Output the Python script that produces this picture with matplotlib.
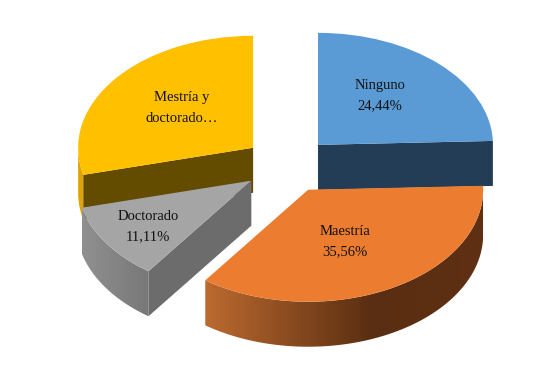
import numpy as np
import matplotlib.pyplot as plt
from matplotlib.colors import ListedColormap, to_rgb
from matplotlib.patches import Polygon

# Data
categories = ['Ninguno', 'Maestría', 'Doctorado', 'Mestría y doctorado']
values = [24.44, 35.56, 11.11, 28.89]
labels = ['Ninguno\n24,44%', 'Maestría\n35,56%', 'Doctorado\n11,11%', 'Mestría y\ndoctorado…']

top_colors = ['#5B9BD5', '#EC7C30', '#A5A5A5', '#FFC000']
cut_colors = ['#223D55', None, '#6C6C6C', '#634B00']
rim_colors = [None, ['#BC6A2F', '#5A2E12', '#5F3013'], ['#909090', '#787878'], ['#DDA500', '#DDA500']]
rim_stops = [None, [0, 0.6, 1], [0, 1], [0, 1]]

# Pixel geometry of the figure
W, H = 539, 376
cx, cy = 287.6, 165.0
rx, ry = 175.0, 112.0
depth = 45.0 / ry
label_xy = [(380, 96), (345, 242), (148, 227), (182, 108)]
draw_order = [3, 0, 2, 1]


def add_cut(ax, wedge, theta, color, z):
    # flat face under one radial edge of the slice
    x0, y0 = wedge.center
    x1 = x0 + np.cos(np.radians(theta))
    y1 = y0 + np.sin(np.radians(theta))
    ax.fill([x0, x1, x1, x0], [y0, y1, y1 - depth, y0 - depth],
            color=color, linewidth=0, zorder=z)


def add_rim(ax, wedge, colors, stops, z):
    # curved outer wall, only the part on the lower half of the ellipse is visible
    t1 = max(wedge.theta1, -180)
    t2 = min(wedge.theta2, 0)
    if t2 <= t1:
        return
    a = np.radians(np.linspace(t1, t2, 200))
    xs = wedge.center[0] + np.cos(a)
    ys = wedge.center[1] + np.sin(a)
    outline = np.vstack([np.column_stack([xs, ys]),
                         np.column_stack([xs[::-1], ys[::-1] - depth])])

    # horizontal colour gradient, clipped to the wall
    f = np.linspace(0, 1, 256)
    rgb = np.array([to_rgb(c) for c in colors])
    table = np.column_stack([np.interp(f, stops, rgb[:, k]) for k in range(3)])
    extent = [xs.min(), xs.max(), ys.min() - depth, ys.max()]
    im = ax.imshow(f[np.newaxis, :], cmap=ListedColormap(table), extent=extent,
                   aspect='auto', zorder=z, interpolation='bilinear')
    clip = Polygon(outline, closed=True, transform=ax.transData)
    im.set_clip_path(clip)


fig = plt.figure(figsize=(W / 100, H / 100), dpi=100)
ax = fig.add_axes([0, 0, 1, 1])

wedges, _ = ax.pie(values, explode=[0.25] * 4, colors=top_colors, startangle=90,
                   counterclock=False, radius=1, wedgeprops={'linewidth': 0})

for n, i in enumerate(draw_order):
    z = 2 + n * 3
    w = wedges[i]
    if rim_colors[i]:
        add_rim(ax, w, rim_colors[i], rim_stops[i], z)
    if cut_colors[i]:
        # blue shows its clockwise end, grey and yellow show their other end
        theta = w.theta1 if i == 0 else w.theta2
        add_cut(ax, w, theta, cut_colors[i], z + 1)
    w.set_zorder(z + 2)

# squash the circle into the ellipse of the tilted pie
ax.set_aspect('auto')
ax.set_xlim(-cx / rx, (W - cx) / rx)
ax.set_ylim((cy - H) / ry, cy / ry)
ax.axis('off')

for text, (px, py) in zip(labels, label_xy):
    fig.text(px / W, 1 - py / H, text, ha='center', va='center', fontsize=10.5,
             family='Liberation Serif', color='#111111', linespacing=1.7, zorder=30)

fig.savefig('out.png', dpi=100, facecolor='white')
plt.close()
